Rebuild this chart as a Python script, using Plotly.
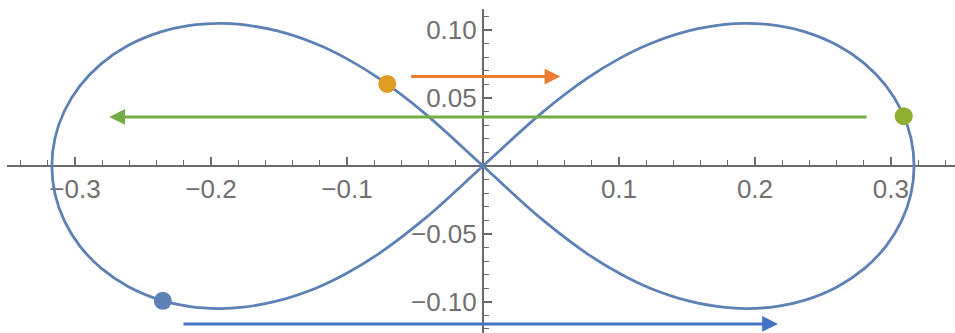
import plotly.graph_objects as go

# Figure-eight orbit, traced origin -> right lobe -> origin -> left lobe -> origin
curve_x = [0.0000, 0.0426, 0.0762, 0.1012, 0.1229, 0.1519, 0.1780, 0.1941, 0.2165,
           0.2369, 0.2607, 0.2806, 0.2964, 0.3078, 0.3147, 0.3170,
           0.3147, 0.3078, 0.2964, 0.2806, 0.2607, 0.2369, 0.2165, 0.1941, 0.1780,
           0.1519, 0.1229, 0.1012, 0.0762, 0.0426, 0.0000,
           -0.0426, -0.0762, -0.1012, -0.1229, -0.1519, -0.1780, -0.1941, -0.2165,
           -0.2369, -0.2607, -0.2806, -0.2964, -0.3078, -0.3147, -0.3170,
           -0.3147, -0.3078, -0.2964, -0.2806, -0.2607, -0.2369, -0.2165, -0.1941, -0.1780,
           -0.1519, -0.1229, -0.1012, -0.0762, -0.0426, 0.0000]
curve_y = [0.0000, 0.0386, 0.0643, 0.0796, 0.0900, 0.0996, 0.1042, 0.1050, 0.1034,
           0.0988, 0.0889, 0.0754, 0.0590, 0.0405, 0.0206, 0.0000,
           -0.0206, -0.0405, -0.0590, -0.0754, -0.0889, -0.0988, -0.1034, -0.1050, -0.1042,
           -0.0996, -0.0900, -0.0796, -0.0643, -0.0386, 0.0000,
           0.0386, 0.0643, 0.0796, 0.0900, 0.0996, 0.1042, 0.1050, 0.1034,
           0.0988, 0.0889, 0.0754, 0.0590, 0.0405, 0.0206, 0.0000,
           -0.0206, -0.0405, -0.0590, -0.0754, -0.0889, -0.0988, -0.1034, -0.1050, -0.1042,
           -0.0996, -0.0900, -0.0796, -0.0643, -0.0386, 0.0000]

# Marked positions on the orbit
dot_x = [-0.2354, -0.0704, 0.3094]
dot_y = [-0.0993, 0.0604, 0.0367]
dot_colors = ["#5E81B5", "#E19C24", "#8FB032"]

# Drift arrows: (tail x, head x, y)
arrow_tail_x = [-0.2213, -0.0540, 0.2831]
arrow_head_x = [0.2169, 0.0569, -0.2748]
arrow_y = [-0.1163, 0.0658, 0.0361]
arrow_colors = ["#4472C4", "#ED7D31", "#70AD47"]

# Tick labels
x_tick_vals = [-0.3, -0.2, -0.1, 0.1, 0.2, 0.3]
x_tick_text = ["\u22120.3", "\u22120.2", "\u22120.1", "0.1", "0.2", "0.3"]
y_tick_vals = [-0.10, -0.05, 0.05, 0.10]
y_tick_text = ["\u22120.10", "\u22120.05", "0.05", "0.10"]

W, H = 955, 333
x_range = [-0.35, 0.3471]
y_range = [-0.1230, 0.1156]
x_dom = [7 / W, 1.0]
y_dom = [0.0, 1.0 - 9 / H]

# paper positions where the axes cross the origin
x_axis_pos = y_dom[0] + (0 - y_range[0]) / (y_range[1] - y_range[0]) * (y_dom[1] - y_dom[0])
y_axis_pos = x_dom[0] + (0 - x_range[0]) / (x_range[1] - x_range[0]) * (x_dom[1] - x_dom[0])

axis_col = "#6a6a6a"
label_font = dict(family="Liberation Sans, Arial, sans-serif", size=26, color="#707070")

fig = go.Figure()
fig.add_trace(go.Scatter(x=curve_x, y=curve_y, mode="lines",
                         line=dict(color="#5E81B5", width=2.8, shape="spline", smoothing=1.0),
                         hoverinfo="skip", showlegend=False))
fig.add_trace(go.Scatter(x=dot_x, y=dot_y, mode="markers",
                         marker=dict(color=dot_colors, size=18, line=dict(width=0)),
                         showlegend=False))

for tx, hx, yy, col in zip(arrow_tail_x, arrow_head_x, arrow_y, arrow_colors):
    fig.add_annotation(x=hx, y=yy, ax=tx, ay=yy, xref="x", yref="y", axref="x", ayref="y",
                       text="", showarrow=True, arrowhead=2, arrowsize=1.05, arrowwidth=3,
                       arrowcolor=col, standoff=0, startstandoff=0)

fig.update_layout(
    width=W, height=H,
    margin=dict(l=0, r=0, t=0, b=0),
    paper_bgcolor="white", plot_bgcolor="white",
    xaxis=dict(range=x_range, domain=x_dom, anchor="free", position=x_axis_pos,
               showgrid=False, zeroline=False, showline=True, linecolor=axis_col, linewidth=2,
               tickmode="array", tickvals=x_tick_vals, ticktext=x_tick_text,
               ticks="inside", ticklen=8, tickwidth=1.6, tickcolor=axis_col,
               minor=dict(tickmode="linear", tick0=0, dtick=0.02, ticks="inside",
                          ticklen=5, tickwidth=1.4, tickcolor=axis_col),
               tickfont=label_font, layer="below traces", automargin=False, fixedrange=True),
    yaxis=dict(range=y_range, domain=y_dom, anchor="free", position=y_axis_pos,
               showgrid=False, zeroline=False, showline=True, linecolor=axis_col, linewidth=2,
               tickmode="array", tickvals=y_tick_vals, ticktext=y_tick_text,
               ticks="inside", ticklen=8, tickwidth=1.6, tickcolor=axis_col,
               minor=dict(tickmode="linear", tick0=0, dtick=0.01, ticks="inside",
                          ticklen=5.5, tickwidth=1.4, tickcolor=axis_col),
               tickfont=label_font, layer="below traces", automargin=False, fixedrange=True),
)

fig.write_html("out.html")
